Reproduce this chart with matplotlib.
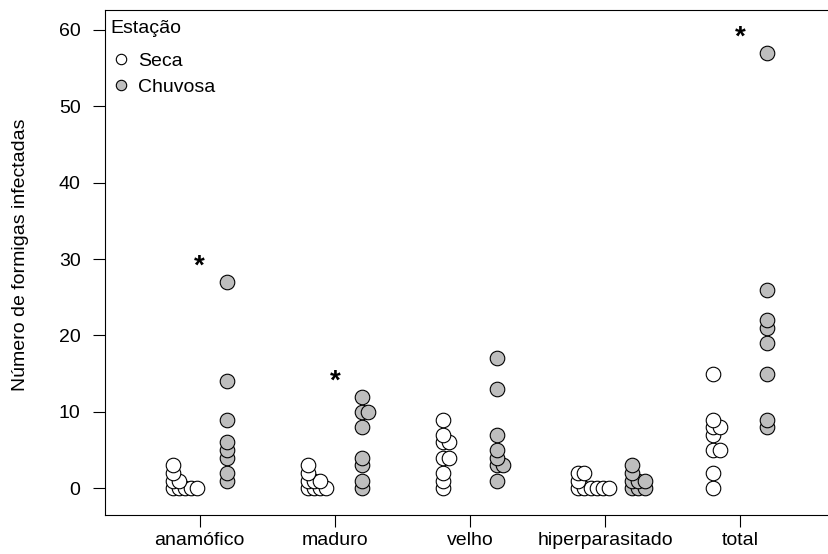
import numpy as np
import matplotlib
matplotlib.use("Agg")
import matplotlib.pyplot as plt
import matplotlib.transforms as mtransforms
from matplotlib.lines import Line2D

plt.rcParams['font.family'] = ['Liberation Sans', 'DejaVu Sans']

# ---- data -------------------------------------------------------------
categories = ["anamófico", "maduro", "velho", "hiperparasitado", "total"]

seca = {
    "anamófico":       [3, 2, 1, 1, 0, 0, 0, 0, 0],
    "maduro":          [3, 2, 1, 1, 1, 0, 0, 0, 0],
    "velho":           [9, 7, 6, 6, 4, 4, 2, 1, 0],
    "hiperparasitado": [2, 2, 1, 0, 0, 0, 0, 0, 0],
    "total":           [15, 9, 8, 8, 7, 5, 5, 2, 0],
}
chuvosa = {
    "anamófico":       [27, 14, 9, 6, 5, 4, 2, 1],
    "maduro":          [12, 10, 10, 8, 4, 3, 1, 0],
    "velho":           [17, 13, 7, 5, 4, 3, 3, 1],
    "hiperparasitado": [3, 2, 1, 1, 1, 0, 0, 0],
    "total":           [57, 26, 22, 21, 19, 15, 9, 8],
}
# significance marks: category and height
star_cats = ["anamófico", "maduro", "total"]
star_y = [30, 15, 60]

season_labels = ["Seca", "Chuvosa"]
season_fill = ["white", "#bebebe"]
yticks = [0, 10, 20, 30, 40, 50, 60]

FS = 14

# ---- figure -----------------------------------------------------------
W, H, DPI = 829, 554, 100
fig = plt.figure(figsize=(W / DPI, H / DPI), dpi=DPI)
ax = fig.add_axes([105 / W, 1 - 515 / H, (835 - 105) / W, (515 - 10) / H])
ax.set_xlim(0.3, 5.7)
ax.set_ylim(-3.5, 62.6)

fig.canvas.draw()


def swarm(values, x0, min_dist_px=6.2):
    """Stack points sideways (to the right) so that points closer than
    min_dist_px in display space are pushed apart."""
    vals = np.asarray(values, dtype=float)
    order = np.argsort(vals, kind="stable")
    pts = ax.transData.transform(np.column_stack([np.full(len(vals), x0), vals]))
    placed = []
    xs = np.empty(len(vals))
    for i in order:
        px, py = pts[i]
        k = 0
        while True:
            cx = px + k * min_dist_px
            if all(np.hypot(cx - qx, py - qy) >= min_dist_px - 1e-6 for qx, qy in placed):
                break
            k += 1
        placed.append((cx, py))
        xs[i] = ax.transData.inverted().transform((cx, py))[0]
    return xs[order], vals[order]


offsets = [-0.2, 0.2]
for ci, cat in enumerate(categories, start=1):
    for si, data in enumerate([seca, chuvosa]):
        xs, ys = swarm(data[cat], ci + offsets[si])
        ax.scatter(xs, ys, s=110, facecolor=season_fill[si], edgecolor="black",
                   linewidth=0.8, zorder=3)

# asterisks: the glyph sits high in its box, so nudge it down a little
star_shift = mtransforms.offset_copy(ax.transData, fig=fig, x=0, y=-8, units="dots")
for cat, yv in zip(star_cats, star_y):
    ax.text(categories.index(cat) + 1, yv, "*", ha="center", va="center",
            fontsize=20, fontweight="bold", zorder=4, transform=star_shift)

# ---- axes styling -----------------------------------------------------
ax.set_xticks(range(1, len(categories) + 1))
ax.set_xticklabels(categories, fontsize=FS)
ax.set_yticks(yticks)
ax.set_yticklabels([str(v) for v in yticks], fontsize=FS)
ax.tick_params(axis="both", direction="out", length=8.6, width=0.8)
ax.tick_params(axis="y", pad=9)
ax.tick_params(axis="x", pad=3.5)
for sp in ax.spines.values():
    sp.set_linewidth(0.8)
ax.set_ylabel("Número de formigas infectadas", fontsize=FS)
ax.yaxis.set_label_coords(-0.104, 0.515)

# legend: heading drawn as text, entries as a frameless legend below it
ax.text(0.008, 0.9624, "Estação", transform=ax.transAxes, ha="left",
        va="center", fontsize=FS)
handles = [Line2D([], [], marker="o", linestyle="none", markersize=7.5,
                  markerfacecolor=c, markeredgecolor="black", markeredgewidth=0.8)
           for c in season_fill]
leg = ax.legend(handles, season_labels, loc="upper left",
                bbox_to_anchor=(0.0086, 0.9158), frameon=False, fontsize=FS,
                handletextpad=0.39, handlelength=1.0, labelspacing=0.44,
                borderaxespad=0.0, borderpad=0.0)

fig.savefig("out.png", dpi=DPI)
